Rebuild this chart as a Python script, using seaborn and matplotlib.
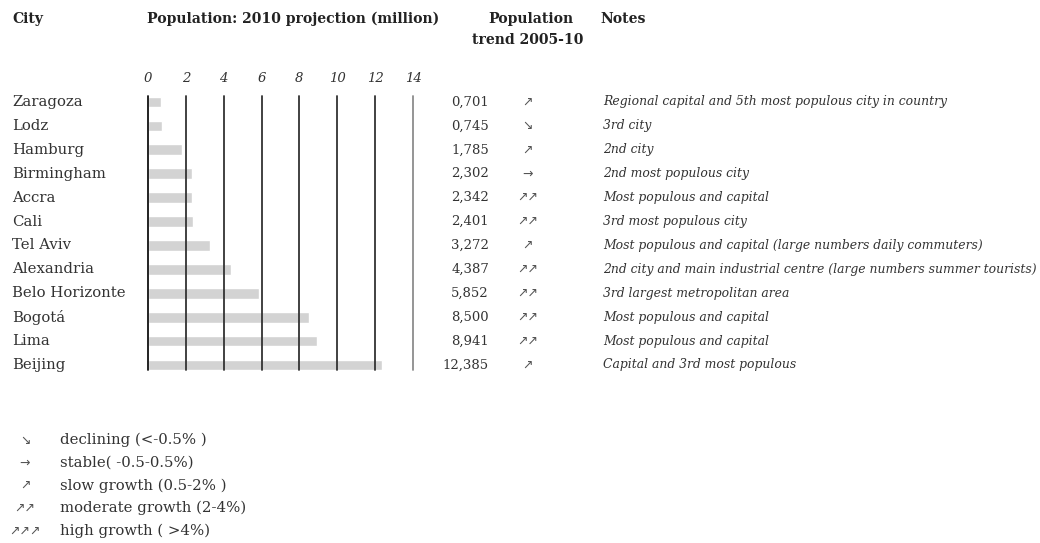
import matplotlib
matplotlib.use('Agg')
import matplotlib.pyplot as plt
import matplotlib.transforms as mtransforms
import pandas as pd
import seaborn as sns

# data
cities = ['Zaragoza', 'Lodz', 'Hamburg', 'Birmingham', 'Accra', 'Cali', 'Tel Aviv',
          'Alexandria', 'Belo Horizonte', 'Bogotá', 'Lima', 'Beijing']
population = [0.701, 0.745, 1.785, 2.302, 2.342, 2.401, 3.272, 4.387, 5.852, 8.500, 8.941, 12.385]
pop_labels = ['0,701', '0,745', '1,785', '2,302', '2,342', '2,401', '3,272', '4,387',
              '5,852', '8,500', '8,941', '12,385']
trend = ['↗', '↘', '↗', '→', '↗↗', '↗↗', '↗', '↗↗', '↗↗', '↗↗', '↗↗', '↗']
notes = ['Regional capital and 5th most populous city in country',
         '3rd city',
         '2nd city',
         '2nd most populous city',
         'Most populous and capital',
         '3rd most populous city',
         'Most populous and capital (large numbers daily commuters)',
         '2nd city and main industrial centre (large numbers summer tourists)',
         '3rd largest metropolitan area',
         'Most populous and capital',
         'Most populous and capital',
         'Capital and 3rd most populous']
x_ticks = [0, 2, 4, 6, 8, 10, 12, 14]
legend_symbols = ['↘', '→', '↗', '↗↗', '↗↗↗']
legend_labels = ['declining (<-0.5% )', 'stable( -0.5-0.5%)', 'slow growth (0.5-2% )',
                 'moderate growth (2-4%)', 'high growth ( >4%)']

df = pd.DataFrame({'city': cities, 'pop': population})

sns.set_theme(style='white')
plt.rcParams['font.family'] = ['DejaVu Serif', 'DejaVu Sans']

W, H = 1040, 543
fig = plt.figure(figsize=(W / 100, H / 100), dpi=100)

def fx(px):
    return px / W

def fy(py):
    return 1 - py / H

TXT = '#333333'
SERIF = ['DejaVu Serif', 'DejaVu Sans']
ARROW = ['DejaVu Sans']

# bar axes: x 148..413 px, y 96..370 px
ax = fig.add_axes([fx(148), fy(370), fx(413) - fx(148), (370 - 96) / H])
sns.barplot(data=df, y='city', x='pop', color='#d3d3d3', width=0.45,
            saturation=1, ax=ax, orient='h')
ax.set_xlim(0, 14)
ax.set_ylim(11.21, -0.25)
for t in x_ticks:
    c = '#8c8c8c' if t == 14 else ('#111111' if t == 0 else '#333333')
    ax.axvline(t, color=c, lw=1.3, zorder=5, clip_on=False)
for s in ax.spines.values():
    s.set_visible(False)
ax.set_xlabel('')
ax.set_ylabel('')
ax.set_yticks([])
ax.xaxis.tick_top()
ax.set_xticks(x_ticks)
ax.set_xticklabels([str(t) for t in x_ticks], fontstyle='italic', fontsize=9.5, color=TXT)
ax.tick_params(axis='x', length=0, pad=8)

# row texts, x in figure, y in data
tr = mtransforms.blended_transform_factory(fig.transFigure, ax.transData)
for i in range(len(cities)):
    fig.text(fx(12), i, cities[i], transform=tr, va='center', ha='left',
             fontsize=10.7, color=TXT, family=SERIF)
    fig.text(fx(489), i, pop_labels[i], transform=tr, va='center', ha='right',
             fontsize=9.5, color=TXT, family=SERIF)
    fig.text(fx(528), i, trend[i], transform=tr, va='center', ha='center',
             fontsize=9, color='#555555', family=ARROW)
    fig.text(fx(603), i, notes[i], transform=tr, va='center', ha='left',
             fontsize=8.9, fontstyle='italic', color=TXT, family=SERIF)

# headers
hkw = dict(fontsize=10.1, fontweight='bold', color='#222222', family=SERIF, va='center')
fig.text(fx(12), fy(19), 'City', ha='left', **hkw)
fig.text(fx(147), fy(19), 'Population: 2010 projection (million)', ha='left', **hkw)
fig.text(fx(531), fy(19), 'Population', ha='center', **hkw)
fig.text(fx(528), fy(40), 'trend 2005-10', ha='center', **hkw)
fig.text(fx(600), fy(19), 'Notes', ha='left', **hkw)

# legend
for i, (sym, lab) in enumerate(zip(legend_symbols, legend_labels)):
    y = 440 + i * 22.7
    fig.text(fx(25), fy(y), sym, ha='center', va='center', fontsize=9,
             color='#555555', family=ARROW)
    fig.text(fx(60), fy(y), lab, ha='left', va='center', fontsize=10.7,
             color=TXT, family=SERIF)

fig.savefig('out.png', dpi=100, facecolor='white')
